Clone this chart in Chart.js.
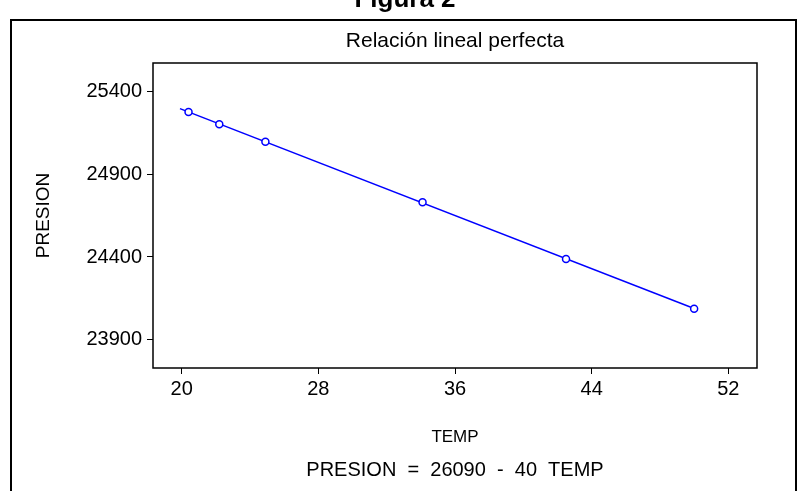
<!DOCTYPE html>
<html>
<head>
<meta charset="utf-8">
<script src="https://cdn.jsdelivr.net/npm/chart.js@4/dist/chart.umd.min.js"></script>
<style>
  html, body { margin: 0; padding: 0; background: #fff; overflow: hidden; }
  #wrap { position: relative; width: 797px; height: 491px; }
  #frame { position: absolute; left: 10px; top: 19px; width: 783px; height: 500px;
           border: 2px solid #000; border-bottom: none; pointer-events: none; }
  #fig { position: absolute; left: 0; width: 810px; top: -17px; text-align: center;
         font: bold 26px 'Liberation Sans', Arial, sans-serif; color: #000; }
  canvas { position: absolute; left: 0; top: 0; }
</style>
</head>
<body>
<div id="wrap">
  <canvas id="c" width="797" height="491"></canvas>
  <div id="frame"></div>
  <div id="fig">Figura 2</div>
</div>
<script>
// ---- data ----
const temp    = [20.4, 22.2, 24.9, 34.1, 42.5, 50.0];
const presion = [25274, 25200, 25094, 24730, 24388, 24088];
// fitted line end points
const fitTemp    = [19.9, 50.0];
const fitPresion = [25294, 24090];
// axis ticks
const xTicks = [20, 28, 36, 44, 52];
const yTicks = [23900, 24400, 24900, 25400];
const chartTitle = 'Relación lineal perfecta';
const xTitle = 'TEMP';
const yTitle = 'PRESION';
const equation = 'PRESION  =  26090  -  40  TEMP';

Chart.defaults.font.family = "'Liberation Sans', Arial, sans-serif";
Chart.defaults.color = '#000';

const framePlugin = {
  id: 'frame',
  afterDatasetsDraw(chart) {
    const {ctx, chartArea: a} = chart;
    ctx.save();
    ctx.strokeStyle = '#000';
    ctx.lineWidth = 1.5;
    ctx.strokeRect(a.left, a.top, a.right - a.left, a.bottom - a.top);
    ctx.restore();
  }
};

new Chart(document.getElementById('c'), {
  type: 'scatter',
  data: {
    datasets: [
      {
        label: 'points',
        data: temp.map((t, i) => ({x: t, y: presion[i]})),
        showLine: false,
        pointStyle: 'circle',
        pointRadius: 3.5,
        pointBorderWidth: 1.5,
        pointBorderColor: '#0000ff',
        pointBackgroundColor: '#ffffff',
        order: 1
      },
      {
        label: 'fit',
        data: fitTemp.map((t, i) => ({x: t, y: fitPresion[i]})),
        showLine: true,
        borderColor: '#0000ff',
        borderWidth: 1.5,
        pointRadius: 0,
        order: 2
      }
    ]
  },
  options: {
    responsive: false,
    animation: false,
    devicePixelRatio: 1,
    layout: { padding: { left: 0, right: 40, top: 0, bottom: 0 } },
    plugins: {
      legend: { display: false },
      tooltip: { enabled: false },
      title: {
        display: true, text: chartTitle, fullSize: false,
        font: { size: 21, weight: 'normal' }, color: '#000',
        padding: { top: 29, bottom: 8.8 }
      },
      subtitle: {
        display: true, text: equation, position: 'bottom', fullSize: false,
        font: { size: 20, weight: 'normal' }, color: '#000',
        padding: { top: 0, bottom: 9 }
      }
    },
    scales: {
      x: {
        type: 'linear', min: 18.32, max: 53.68,
        afterBuildTicks: s => { s.ticks = xTicks.map(v => ({value: v})); },
        afterFit: s => { s.height = 123 - (24 + 9); },
        ticks: { font: { size: 20 }, color: '#000', padding: 3, maxRotation: 0,
                 callback: v => String(v) },
        grid: { drawOnChartArea: false, drawTicks: true, tickLength: 6, color: '#000', lineWidth: 1 },
        border: { display: false },
        title: { display: true, text: xTitle, font: { size: 17 }, color: '#000',
                 padding: { top: 0, bottom: 10 } }
      },
      y: {
        type: 'linear', min: 23731, max: 25569,
        afterBuildTicks: s => { s.ticks = yTicks.map(v => ({value: v})); },
        afterFit: s => { s.width = 153; },
        ticks: { font: { size: 20 }, color: '#000', padding: 5,
                 callback: v => String(v) },
        grid: { drawOnChartArea: false, drawTicks: true, tickLength: 6, color: '#000', lineWidth: 1 },
        border: { display: false },
        title: { display: true, text: yTitle, font: { size: 19 }, color: '#000',
                 padding: { top: 32.6, bottom: 0 } }
      }
    }
  },
  plugins: [framePlugin]
});
</script>
</body>
</html>
